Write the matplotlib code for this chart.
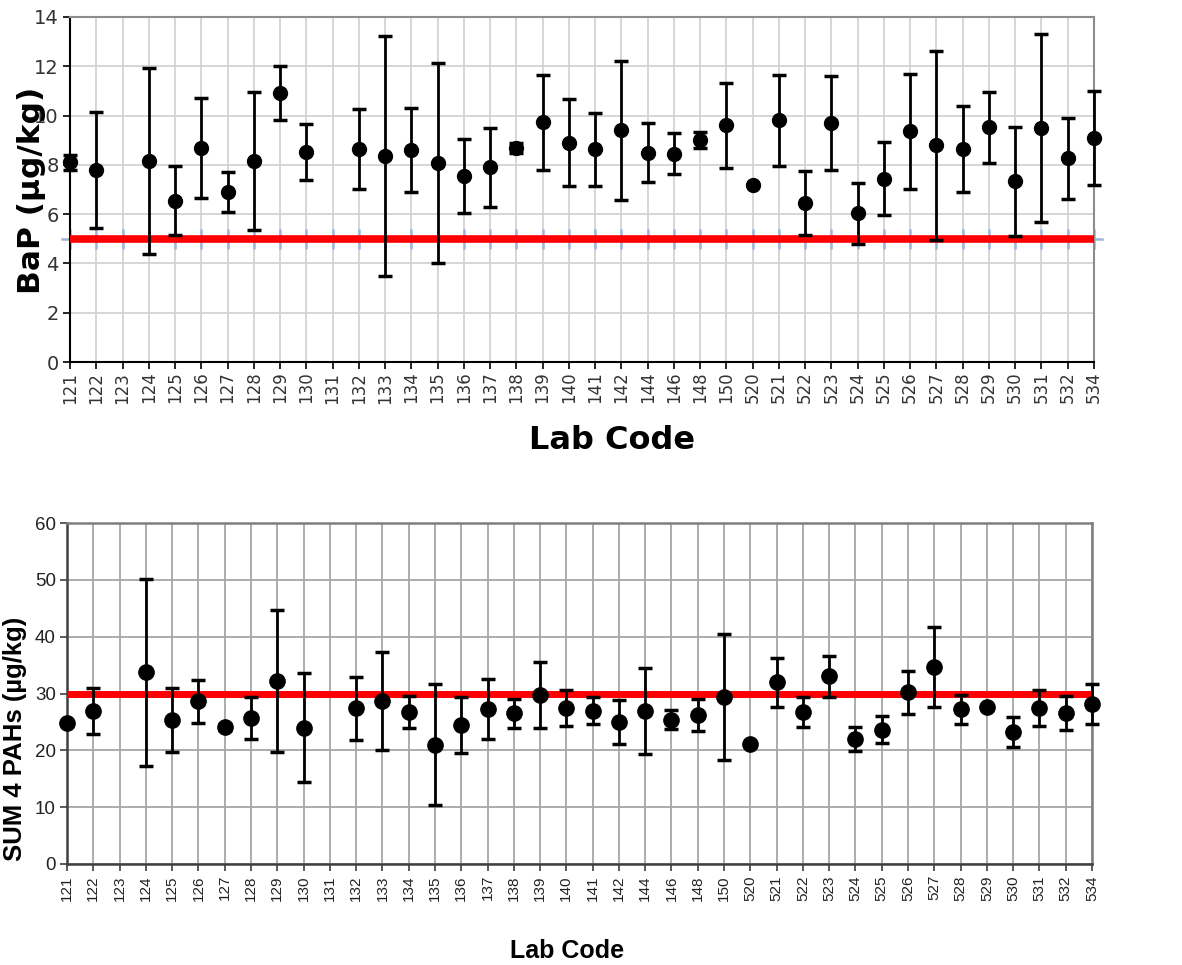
import numpy as np
import matplotlib
matplotlib.use("Agg")
import matplotlib.pyplot as plt

labs = ["121","122","123","124","125","126","127","128","129","130","131","132","133","134",
        "135","136","137","138","139","140","141","142","144","146","148","150","520","521",
        "522","523","524","525","526","527","528","529","530","531","532","534"]

nan = np.nan
bap_val = [8.1, 7.8, nan, 8.15, 6.55, 8.7, 6.9, 8.15, 10.9, 8.52, nan, 8.63, 8.37, 8.6,
           8.08, 7.56, 7.9, 8.7, 9.72, 8.9, 8.63, 9.4, 8.5, 8.46, 9.0, 9.6, 7.2, 9.8,
           6.45, 9.7, 6.03, 7.43, 9.36, 8.79, 8.63, 9.52, 7.33, 9.5, 8.26, 9.1]
bap_err = [0.3, 2.35, nan, 3.78, 1.4, 2.03, 0.83, 2.79, 1.1, 1.13, nan, 1.62, 4.87, 1.72,
           4.07, 1.5, 1.59, 0.2, 1.94, 1.77, 1.47, 2.83, 1.19, 0.85, 0.33, 1.72, 0.0, 1.86,
           1.29, 1.92, 1.24, 1.48, 2.33, 3.83, 1.75, 1.43, 2.22, 3.8, 1.64, 1.91]
bap_limit = 5.0

sum_val = [24.8, 27.0, nan, 33.7, 25.3, 28.6, 24.1, 25.7, 32.2, 24.0, nan, 27.4, 28.7, 26.7,
           21.0, 24.5, 27.3, 26.5, 29.7, 27.5, 27.0, 25.0, 26.9, 25.4, 26.2, 29.4, 21.1, 32.0,
           26.8, 33.0, 22.0, 23.6, 30.2, 34.7, 27.2, 27.7, 23.3, 27.5, 26.5, 28.1]
sum_err = [0.0, 4.05, nan, 16.5, 5.65, 3.83, 0.5, 3.75, 12.5, 9.6, nan, 5.5, 8.67, 2.78,
           10.6, 4.92, 5.33, 2.58, 5.83, 3.16, 2.43, 3.84, 7.5, 1.7, 2.8, 11.15, 0.0, 4.3,
           2.67, 3.57, 2.17, 2.38, 3.81, 7.0, 2.58, 0.0, 2.64, 3.16, 3.0, 3.5]
sum_limit = 30.0

W, H = 1182, 965
fig = plt.figure(figsize=(W/100, H/100), dpi=100)
x = np.arange(len(labs))

# ---------------- Top chart ----------------
top_font = ["DejaVu Sans"]
ax1 = fig.add_axes([70/W, 1-362/H, (1094-70)/W, (362-17)/H])
ax1.set_xlim(0, len(labs)-1)
ax1.set_ylim(0, 14)
ax1.set_yticks(np.arange(0, 15, 2))
ax1.set_xticks(x)
ax1.set_xticklabels(labs, rotation=90, fontsize=12, family=top_font, color="#333333")
for t in ax1.get_yticklabels():
    t.set_fontsize(14); t.set_family(top_font); t.set_color("#333333")
ax1.grid(True, color="#d0d0d0", linewidth=1.2)
ax1.set_axisbelow(True)
for s in ["top", "right"]:
    ax1.spines[s].set_color("#8c8c8c"); ax1.spines[s].set_linewidth(1.5)
for s in ["left", "bottom"]:
    ax1.spines[s].set_color("#000000"); ax1.spines[s].set_linewidth(1.5)
ax1.tick_params(axis="both", direction="out", length=5, width=1.2, color="#000000", pad=3)
ax1.tick_params(axis="x", pad=2)

# light blue marker series on the limit
ax1.plot(x, [bap_limit]*len(x), linestyle="none", marker="|", markersize=14,
         markeredgewidth=1.8, color="#9bb5da", zorder=2, clip_on=False)
ax1.plot([-0.3, len(labs)-1+0.3], [bap_limit, bap_limit], color="#9bb5da", lw=1.8,
         zorder=2, clip_on=False)
ax1.plot([0, len(labs)-1], [bap_limit, bap_limit], color="#ff0000", lw=5.5, zorder=3,
         solid_capstyle="butt")
ax1.errorbar(x, bap_val, yerr=bap_err, fmt="o", color="black", markersize=10,
             elinewidth=2, capsize=5, capthick=2.5, zorder=4, clip_on=False)

fig.text(32/W, 1-190/H, "BaP (µg/kg)", rotation=90, ha="center", va="center",
         fontsize=22.5, fontweight="bold", family=top_font)
fig.text(612/W, 1-440/H, "Lab Code", ha="center", va="center",
         fontsize=23, fontweight="bold", family=top_font)

# ---------------- Bottom chart ----------------
bot_font = ["Liberation Sans", "DejaVu Sans"]
ax2 = fig.add_axes([67/W, 1-864/H, (1092-67)/W, (864-523)/H])
ax2.set_xlim(0, len(labs)-1)
ax2.set_ylim(0, 60)
ax2.set_yticks(np.arange(0, 61, 10))
ax2.set_xticks(x)
ax2.set_xticklabels(labs, rotation=90, fontsize=11, family=bot_font, color="#222222")
for t in ax2.get_yticklabels():
    t.set_fontsize(13.5); t.set_family(bot_font); t.set_color("#222222")
ax2.grid(True, color="#a6a6a6", linewidth=1.3)
ax2.set_axisbelow(True)
for s in ["top", "right", "left", "bottom"]:
    ax2.spines[s].set_color("#7f7f7f"); ax2.spines[s].set_linewidth(1.8)
ax2.spines["left"].set_color("#404040"); ax2.spines["bottom"].set_color("#404040")
ax2.tick_params(axis="both", direction="out", length=5, width=1.2, color="#404040", pad=3)

ax2.plot([0, len(labs)-1], [sum_limit, sum_limit], color="#ff0000", lw=5, zorder=3,
         solid_capstyle="butt")
ax2.errorbar(x, sum_val, yerr=sum_err, fmt="o", color="black", markersize=11,
             elinewidth=2, capsize=5, capthick=2.5, zorder=4, clip_on=False)

fig.text(15/W, 1-739/H, "SUM 4 PAHs (µg/kg)", rotation=90, ha="center", va="center",
         fontsize=18.5, fontweight="bold", family=bot_font)
fig.text(567/W, 1-951/H, "Lab Code", ha="center", va="center",
         fontsize=18, fontweight="bold", family=bot_font)

fig.savefig("out.png", dpi=100)
